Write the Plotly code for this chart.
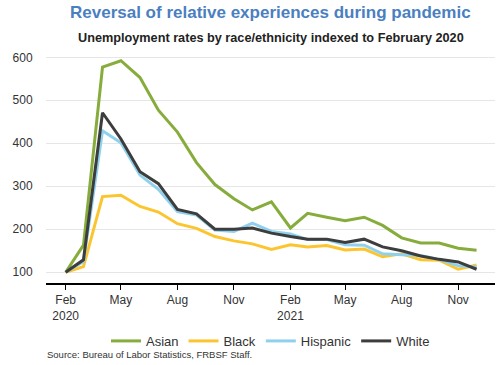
import plotly.graph_objects as go

months = ["2020-02-01","2020-03-01","2020-04-01","2020-05-01","2020-06-01","2020-07-01",
          "2020-08-01","2020-09-01","2020-10-01","2020-11-01","2020-12-01","2021-01-01",
          "2021-02-01","2021-03-01","2021-04-01","2021-05-01","2021-06-01","2021-07-01",
          "2021-08-01","2021-09-01","2021-10-01","2021-11-01","2021-12-01"]

asian    = [100, 163, 577, 592, 553, 477, 426, 355, 304, 271, 245, 264,
            203, 237, 228, 220, 228, 209, 180, 168, 168, 156, 151]
black    = [100, 113, 276, 279, 253, 240, 213, 202, 183, 173, 166, 153,
            164, 159, 162, 152, 154, 136, 143, 129, 128, 107, 117]
hispanic = [100, 125, 429, 401, 326, 293, 241, 233, 198, 195, 214, 195,
            189, 176, 176, 164, 163, 143, 141, 139, 130, 115, 112]
white    = [100, 129, 471, 410, 334, 306, 246, 236, 200, 200, 203, 191,
            183, 177, 177, 169, 177, 159, 150, 138, 130, 124, 107]

series = [("Asian", asian, "#86ad3c"),
          ("Black", black, "#fcc52f"),
          ("Hispanic", hispanic, "#8fd1ec"),
          ("White", white, "#3d3d3d")]

tick_vals = ["2020-02-01","2020-05-01","2020-08-01","2020-11-01",
             "2021-02-01","2021-05-01","2021-08-01","2021-11-01"]
tick_text = ["Feb<br>2020","May","Aug","Nov","Feb<br>2021","May","Aug","Nov"]

font_fam = "Arial, Liberation Sans, sans-serif"

fig = go.Figure()
for name, vals, col in series:
    fig.add_trace(go.Scatter(x=months, y=vals, name=name, mode="lines",
                             line=dict(color=col, width=3)))

fig.update_layout(
    width=500, height=365,
    margin=dict(l=46, r=5, t=53, b=82, autoexpand=False),
    paper_bgcolor="white", plot_bgcolor="white",
    font=dict(family=font_fam, size=12, color="#333333"),
    showlegend=True,
    legend=dict(orientation="h", x=0.5, xanchor="center", y=-0.252, yanchor="middle",
                font=dict(size=13, color="#333333"), traceorder="normal",
                itemwidth=30, tracegroupgap=0),
    xaxis=dict(type="date", range=["2019-12-31", "2021-12-31"],
               tickvals=tick_vals, ticktext=tick_text, automargin=False,
               showgrid=False, showline=True, linecolor="black", linewidth=2,
               ticks="outside", ticklen=5, tickcolor="black", tickwidth=1,
               tickfont=dict(size=12, color="#333333"), zeroline=False),
    yaxis=dict(range=[75, 610], tickvals=[100, 200, 300, 400, 500, 600],
               showgrid=True, gridcolor="#e6e6e6", gridwidth=1, automargin=False,
               showline=False, zeroline=False,
               ticks="outside", ticklen=10, tickcolor="rgba(0,0,0,0)",
               tickfont=dict(size=12, color="#333333")),
    annotations=[
        dict(text="<b>Reversal of relative experiences during pandemic</b>",
             xref="paper", yref="paper", x=0.5, y=1.178, xanchor="center", yanchor="middle",
             showarrow=False, font=dict(size=17, color="#4a7fc1", family=font_fam)),
        dict(text="<b>Unemployment rates by race/ethnicity indexed to February 2020</b>",
             xref="paper", yref="paper", x=0.5, y=1.065, xanchor="center", yanchor="middle",
             showarrow=False, font=dict(size=12.7, color="#222222", family=font_fam)),
        dict(text="Source: Bureau of Labor Statistics, FRBSF Staff.",
             xref="paper", yref="paper", x=-0.002, y=-0.309, xanchor="left", yanchor="middle",
             showarrow=False, font=dict(size=9.5, color="#333333", family=font_fam)),
    ],
)

fig.write_html("out.html", config={"displayModeBar": False},
               post_script="document.body.style.margin='0';document.body.style.overflow='hidden';")
